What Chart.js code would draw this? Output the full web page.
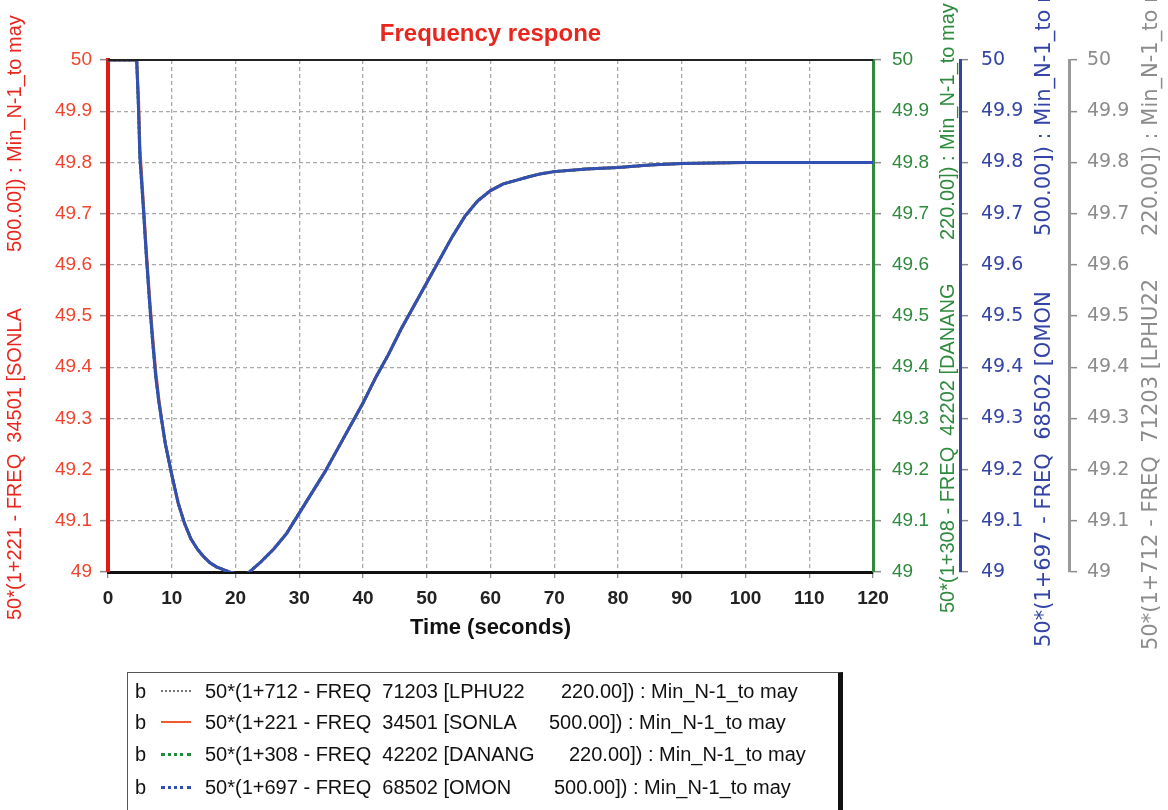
<!DOCTYPE html>
<html>
<head>
<meta charset="utf-8">
<script src="https://cdn.jsdelivr.net/npm/chart.js@4.4.1/dist/chart.umd.min.js"></script>
<style>
    body { margin: 0; background: #fff; }
    #wrap { position: relative; width: 1168px; height: 810px; overflow: hidden; }
    #freqChart { position: absolute; left: 0; top: 0; }
    #legend {
        position: absolute; left: 127px; top: 672px; width: 710px; height: 160px;
        border: 1px solid #555; border-right: 5px solid #111;
        font-family: "Liberation Sans", Arial, sans-serif; font-size: 20px; color: #111;
    }
    #legend .row { position: absolute; left: 0; width: 100%; height: 24px; line-height: 24px; white-space: pre; }
    #legend .b { position: absolute; left: 7px; }
    #legend .sw { position: absolute; left: 33px; top: 11px; width: 30px; height: 0; }
    #legend .p1, #legend .p2 { position: absolute; }
    #legend .p1 { left: 77px; }
</style>
</head>
<body>
<div id="wrap">
    <canvas id="freqChart" width="1168" height="810"></canvas>
    <div id="legend"></div>
</div>
<script>
// Time axis (seconds)
const timeSec = [0, 4.5, 4.8, 5, 5.5, 6, 6.5, 7, 7.5, 8, 8.5, 9, 9.5, 10, 11, 12, 13, 14, 15, 16, 17, 18, 19, 20, 21, 22,
    24, 26, 28, 30, 32, 34, 36, 38, 40, 42, 44, 46, 48, 50, 52, 54, 56, 58, 60, 62, 64, 66, 68, 70, 75, 80, 85, 90, 100, 110, 120];

// Frequency readings (Hz) for each bus
const freqLphu = [50, 50, 49.9, 49.81, 49.72, 49.62, 49.53, 49.45, 49.38, 49.33, 49.29, 49.25, 49.22, 49.19, 49.135, 49.095, 49.065, 49.045, 49.03, 49.018, 49.01, 49.005, 49.0, 48.997, 48.995, 48.998,
    49.02, 49.045, 49.075, 49.115, 49.155, 49.195, 49.24, 49.285, 49.33, 49.38, 49.425, 49.475, 49.52, 49.565, 49.61, 49.655, 49.695, 49.725, 49.745, 49.758, 49.765, 49.772, 49.778, 49.782, 49.787, 49.79, 49.795, 49.798, 49.8, 49.8, 49.8];
const freqSonla = [50, 50, 49.92, 49.83, 49.73, 49.63, 49.54, 49.46, 49.39, 49.335, 49.29, 49.25, 49.22, 49.19, 49.135, 49.095, 49.065, 49.045, 49.03, 49.018, 49.01, 49.005, 49.0, 48.997, 48.995, 48.998,
    49.02, 49.045, 49.075, 49.115, 49.155, 49.195, 49.24, 49.285, 49.33, 49.38, 49.425, 49.475, 49.52, 49.565, 49.61, 49.655, 49.695, 49.725, 49.745, 49.758, 49.765, 49.772, 49.778, 49.782, 49.787, 49.79, 49.795, 49.798, 49.8, 49.8, 49.8];
const freqDanang = [50, 50, 49.9, 49.81, 49.72, 49.62, 49.53, 49.45, 49.38, 49.33, 49.29, 49.25, 49.22, 49.19, 49.135, 49.095, 49.065, 49.045, 49.03, 49.018, 49.01, 49.005, 49.0, 48.997, 48.995, 48.998,
    49.02, 49.045, 49.075, 49.115, 49.155, 49.195, 49.24, 49.285, 49.33, 49.38, 49.425, 49.475, 49.52, 49.565, 49.61, 49.655, 49.695, 49.725, 49.745, 49.758, 49.765, 49.772, 49.778, 49.782, 49.787, 49.79, 49.795, 49.798, 49.8, 49.8, 49.8];
const freqOmon = [50, 50, 49.9, 49.81, 49.72, 49.62, 49.53, 49.45, 49.38, 49.33, 49.29, 49.25, 49.22, 49.19, 49.135, 49.095, 49.065, 49.045, 49.03, 49.018, 49.01, 49.005, 49.0, 48.997, 48.995, 48.998,
    49.02, 49.045, 49.075, 49.115, 49.155, 49.195, 49.24, 49.285, 49.33, 49.38, 49.425, 49.475, 49.52, 49.565, 49.61, 49.655, 49.695, 49.725, 49.745, 49.758, 49.765, 49.772, 49.778, 49.782, 49.787, 49.79, 49.795, 49.798, 49.8, 49.8, 49.8];

// Axis ranges / ticks
const xTicks = { min: 0, max: 120, step: 10 };
const yTicks = { min: 49, max: 50, step: 0.1 };

// Legend / axis title texts
const seriesNames = [
    ['50*(1+712 - FREQ  71203 [LPHU22', '220.00]) : Min_N-1_to may'],
    ['50*(1+221 - FREQ  34501 [SONLA', '500.00]) : Min_N-1_to may'],
    ['50*(1+308 - FREQ  42202 [DANANG', '220.00]) : Min_N-1_to may'],
    ['50*(1+697 - FREQ  68502 [OMON', '500.00]) : Min_N-1_to may']
];

const RED = '#e8261e', GREEN = '#2e8a3c', BLUE = '#3444a6', GRAY = '#8c8c8c';
const SANS = '"Liberation Sans", Arial, sans-serif';
const VERD = '"DejaVu Sans", Verdana, sans-serif';

function toPoints(values) {
    return timeSec.map((t, i) => ({ x: t, y: values[i] }));
}

function fmt(v) {
    return String(+v.toFixed(1));
}

function yAxis(position, color, border, bw, font, padding, width, onArea) {
    return {
        type: 'linear', position: position,
        min: yTicks.min, max: yTicks.max,
        ticks: { stepSize: yTicks.step, color: color, font: font, padding: padding, callback: fmt, autoSkip: false },
        grid: { drawOnChartArea: onArea, color: '#a9a9a9', lineWidth: 1.3, tickLength: 8, tickColor: '#8a8a8a', tickWidth: 1.5 },
        border: { color: border, width: bw, dash: [4, 3] },
        afterFit: scale => { scale.width = width; }
    };
}

// Rotated axis titles (all read bottom-to-top)
const axisTitles = [
    { id: 'y', dx: 15, font: '20px ' + SANS, color: RED, name: seriesNames[1], y1: 48, y2: -320 },
    { id: 'y2', dx: -12, font: '20px ' + SANS, color: GREEN, name: seriesNames[2], y1: 41, y2: -332 },
    { id: 'y3', dx: -24, font: '21px ' + VERD, color: BLUE, name: seriesNames[3], y1: 75, y2: -336 },
    { id: 'y4', dx: -16, font: '21px ' + VERD, color: GRAY, name: seriesNames[0], y1: 78, y2: -336 }
];

const titlePlugin = {
    id: 'axisTitles',
    afterDraw(chart) {
        const ctx = chart.ctx;
        const area = chart.chartArea;
        // top frame line
        ctx.save();
        ctx.strokeStyle = '#222';
        ctx.lineWidth = 2;
        ctx.beginPath();
        ctx.moveTo(area.left, area.top);
        ctx.lineTo(area.right, area.top);
        ctx.stroke();
        ctx.restore();

        axisTitles.forEach(t => {
            const s = chart.scales[t.id];
            const x = t.id === 'y' ? s.left + t.dx : s.right + t.dx;
            ctx.save();
            ctx.font = t.font;
            ctx.fillStyle = t.color;
            ctx.textBaseline = 'middle';
            ctx.textAlign = 'left';
            [[t.name[0], area.bottom + t.y1], [t.name[1], area.bottom + t.y2]].forEach(([txt, y]) => {
                ctx.save();
                ctx.translate(x, y);
                ctx.rotate(-Math.PI / 2);
                ctx.fillText(txt, 0, 0);
                ctx.restore();
            });
            ctx.restore();
        });
    }
};

const ctx = document.getElementById('freqChart').getContext('2d');
const freqChart = new Chart(ctx, {
    type: 'line',
    data: {
        datasets: [
            { label: seriesNames[3].join(' '), data: toPoints(freqOmon), yAxisID: 'y3', borderColor: '#3050b4', borderWidth: 3 },
            { label: seriesNames[2].join(' '), data: toPoints(freqDanang), yAxisID: 'y2', borderColor: '#1f8a3a', borderWidth: 3, borderDash: [3, 2] },
            { label: seriesNames[1].join(' '), data: toPoints(freqSonla), yAxisID: 'y', borderColor: '#f05a30', borderWidth: 3 },
            { label: seriesNames[0].join(' '), data: toPoints(freqLphu), yAxisID: 'y4', borderColor: '#777', borderWidth: 2, borderDash: [2, 2] }
        ]
    },
    options: {
        responsive: false,
        devicePixelRatio: 1,
        animation: false,
        layout: { padding: { left: 0, right: 0, top: 0, bottom: 158 } },
        elements: { point: { radius: 0 }, line: { tension: 0 } },
        plugins: {
            legend: { display: false },
            tooltip: { enabled: false },
            title: {
                display: true, fullSize: false,
                text: 'Frequency respone', color: RED,
                font: { family: SANS, size: 24, weight: 'bold' },
                padding: { top: 20, bottom: 11.2 }
            }
        },
        scales: {
            x: {
                type: 'linear', position: 'bottom',
                min: xTicks.min, max: xTicks.max,
                ticks: { stepSize: xTicks.step, color: '#222', font: { family: SANS, size: 19, weight: 'bold' }, padding: 9 },
                grid: { color: '#a9a9a9', lineWidth: 1.3, tickLength: 6, tickColor: '#8a8a8a' },
                border: { color: '#111', width: 3, dash: [4, 3] },
                title: { display: true, text: 'Time (seconds)', color: '#111', font: { family: SANS, size: 22, weight: 'bold' }, padding: { top: 0, bottom: 11 } },
                afterFit: scale => { scale.height = 80; }
            },
            y: yAxis('left', '#f0442e', '#e01a14', 4, { family: SANS, size: 19 }, 8, 108, true),
            y2: yAxis('right', GREEN, GREEN, 3, { family: SANS, size: 19 }, 11, 87, false),
            y3: yAxis('right', BLUE, BLUE, 3, { family: VERD, size: 19 }, 13, 109, false),
            y4: yAxis('right', GRAY, '#999', 3, { family: VERD, size: 19 }, 10, 99, false)
        }
    },
    plugins: [titlePlugin]
});

// HTML legend below the chart
const legendStyles = [
    { border: '2px dotted #777', p2: 433 },
    { border: '2px solid #f05a30', p2: 421 },
    { border: '3px dotted #1f8a3a', p2: 441 },
    { border: '3px dotted #3050b4', p2: 426 }
];
const rowTops = [6, 37, 69, 102];
const legendEl = document.getElementById('legend');
seriesNames.forEach((name, i) => {
    const row = document.createElement('div');
    row.className = 'row';
    row.style.top = rowTops[i] + 'px';
    row.innerHTML = `<span class="b">b</span><span class="sw" style="border-top:${legendStyles[i].border}"></span>` +
        `<span class="p1">${name[0]}</span><span class="p2" style="left:${legendStyles[i].p2}px">${name[1]}</span>`;
    legendEl.appendChild(row);
});
</script>
</body>
</html>
